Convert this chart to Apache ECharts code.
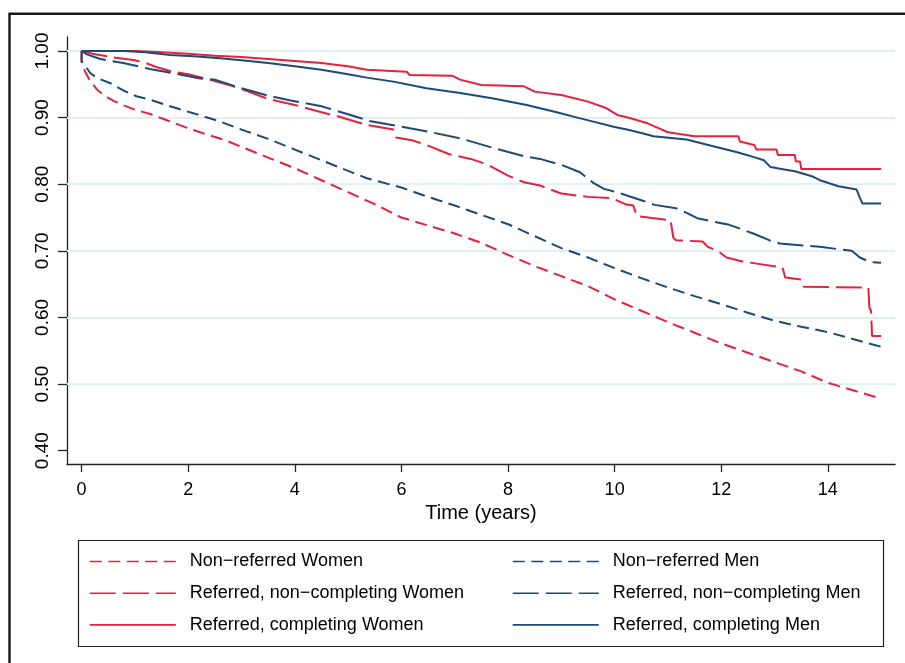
<!DOCTYPE html>
<html>
<head>
<meta charset="utf-8">
<script src="https://cdn.jsdelivr.net/npm/echarts@6/dist/echarts.min.js"></script>
<style>
  html, body { margin: 0; padding: 0; background: #fff; }
  #chart { width: 905px; height: 663px; }
</style>
</head>
<body>
<div id="chart"></div>
<script>
// ---- Data (time in years, survival probability) ----
const seriesNames = [
  "Non\u2212referred Women",
  "Non\u2212referred Men",
  "Referred, non\u2212completing Women",
  "Referred, non\u2212completing Men",
  "Referred, completing Women",
  "Referred, completing Men"
];

const nonReferredWomen = [
  [0,1],[0,0.982],[0.06,0.970],[0.16,0.955],[0.28,0.943],[0.41,0.934],[0.6,0.925],[0.8,0.918],
  [1.0,0.912],[1.3,0.905],[1.6,0.896],[2.0,0.884],[2.3,0.876],[2.7,0.866],[3.0,0.856],[3.5,0.840],
  [4.0,0.824],[4.5,0.806],[5.0,0.788],[5.5,0.770],[6.0,0.750],[6.5,0.738],[7.0,0.726],[7.5,0.712],
  [8.0,0.694],[8.5,0.677],[9.0,0.662],[9.5,0.647],[10.0,0.627],[10.5,0.610],[11.0,0.593],[11.5,0.577],
  [12.0,0.561],[12.5,0.547],[13.0,0.533],[13.5,0.519],[14.0,0.502],[14.5,0.490],[15.0,0.478]
];

const nonReferredMen = [
  [0,1],[0,0.985],[0.1,0.974],[0.16,0.967],[0.3,0.959],[0.53,0.952],[0.8,0.940],[1.03,0.932],
  [1.28,0.927],[1.66,0.917],[2.2,0.904],[2.6,0.894],[3.0,0.882],[3.5,0.868],[4.0,0.852],[4.5,0.836],
  [5.0,0.820],[5.35,0.809],[6.0,0.795],[6.5,0.781],[7.0,0.768],[7.5,0.754],[8.0,0.740],[8.5,0.722],
  [9.0,0.704],[9.5,0.690],[10.0,0.674],[10.5,0.659],[11.0,0.645],[11.5,0.632],[12.0,0.620],[12.5,0.607],
  [13.0,0.595],[13.5,0.586],[14.0,0.578],[14.5,0.567],[15.0,0.556]
];

const referredNonCompletingWomen = [
  [0,1],[0.2,0.996],[0.55,0.991],[1.0,0.986],[1.2,0.982],[1.4,0.976],[1.7,0.969],[2.0,0.965],
  [2.4,0.957],[2.8,0.948],[3.0,0.943],[3.5,0.928],[4.0,0.919],[4.5,0.908],[4.8,0.902],[5.35,0.889],
  [5.85,0.882],[5.9,0.870],[6.2,0.866],[6.5,0.858],[6.9,0.845],[7.3,0.838],[7.6,0.830],[8.0,0.813],
  [8.3,0.803],[8.6,0.798],[9.0,0.786],[9.5,0.781],[9.95,0.779],[10.2,0.770],[10.35,0.768],[10.42,0.752],
  [11.05,0.746],[11.1,0.720],[11.15,0.716],[11.65,0.714],[11.75,0.706],[11.95,0.699],[12.1,0.690],
  [12.4,0.684],[13.15,0.675],[13.2,0.660],[13.5,0.657],[13.55,0.646],[14.76,0.645],[14.78,0.615],
  [14.81,0.610],[14.83,0.572],[15.0,0.572]
];

const referredNonCompletingMen = [
  [0,1],[0.1,0.995],[0.35,0.988],[0.78,0.982],[1.28,0.973],[1.7,0.967],[2.2,0.959],[2.5,0.957],
  [3.0,0.944],[3.5,0.933],[3.9,0.926],[4.5,0.917],[5.0,0.905],[5.4,0.895],[5.9,0.888],[6.5,0.879],
  [7.1,0.869],[7.7,0.855],[8.3,0.842],[8.6,0.838],[9.0,0.829],[9.35,0.818],[9.6,0.802],[9.8,0.793],
  [10.0,0.789],[10.5,0.776],[10.75,0.769],[11.15,0.764],[11.35,0.757],[11.55,0.749],[12.15,0.739],
  [12.4,0.732],[12.6,0.726],[12.9,0.716],[13.1,0.711],[13.85,0.706],[14.45,0.700],[14.6,0.690],
  [14.8,0.683],[15.0,0.682]
];

const referredCompletingWomen = [
  [0,1],[1.0,1.0],[1.5,0.998],[2.0,0.996],[2.5,0.993],[3.0,0.991],[3.5,0.988],[4.0,0.985],
  [4.5,0.982],[4.8,0.979],[5.0,0.977],[5.35,0.972],[6.1,0.969],[6.15,0.964],[6.95,0.963],[7.1,0.957],
  [7.5,0.949],[8.3,0.947],[8.5,0.939],[9.0,0.934],[9.5,0.924],[9.85,0.914],[10.05,0.904],[10.3,0.899],
  [10.6,0.892],[10.8,0.885],[11.0,0.878],[11.5,0.872],[12.32,0.872],[12.35,0.864],[12.62,0.859],
  [12.66,0.852],[13.04,0.852],[13.06,0.844],[13.38,0.844],[13.4,0.834],[13.48,0.834],[13.5,0.823],
  [15.0,0.823]
];

const referredCompletingMen = [
  [0,1],[0.8,1.0],[1.2,0.998],[1.66,0.994],[2.1,0.992],[2.6,0.989],[3.0,0.986],[3.5,0.982],
  [4.0,0.977],[4.5,0.972],[5.0,0.965],[5.35,0.960],[5.85,0.954],[6.47,0.944],[7.1,0.937],[7.7,0.929],
  [8.35,0.919],[8.97,0.907],[9.3,0.900],[9.6,0.894],[10.0,0.886],[10.23,0.882],[10.5,0.877],
  [10.73,0.872],[11.35,0.867],[11.7,0.860],[12.0,0.854],[12.3,0.848],[12.6,0.841],[12.8,0.836],
  [12.92,0.826],[13.4,0.819],[13.7,0.812],[13.85,0.806],[14.2,0.797],[14.54,0.792],[14.6,0.780],
  [14.65,0.771],[15.0,0.771]
];

const xTicks = [0, 2, 4, 6, 8, 10, 12, 14];
const yTicks = [0.4, 0.5, 0.6, 0.7, 0.8, 0.9, 1.0];
const yGridValues = [0.5, 0.6, 0.7, 0.8, 0.9, 1.0];

// ---- Styles ----
const RED = '#e8203c';
const BLUE = '#1a4a75';
const SHORT_DASH = [12, 6.5];
const LONG_DASH = [26, 7];
const FONT = '"Liberation Sans", Arial, Helvetica, sans-serif';

const seriesData = [
  nonReferredWomen, nonReferredMen,
  referredNonCompletingWomen, referredNonCompletingMen,
  referredCompletingWomen, referredCompletingMen
];
const seriesColors = [RED, BLUE, RED, BLUE, RED, BLUE];
const seriesDash = [SHORT_DASH, SHORT_DASH, LONG_DASH, LONG_DASH, 'solid', 'solid'];

const chart = echarts.init(document.getElementById('chart'), null, { renderer: 'canvas' });

const series = [{
  name: '__grid',
  type: 'line',
  data: [],
  silent: true,
  markLine: {
    silent: true,
    z: 1,
    symbol: ['none', 'none'],
    label: { show: false },
    lineStyle: { color: '#e2eff0', width: 2, type: 'solid' },
    emphasis: { disabled: true },
    animation: false,
    data: yGridValues.map(v => ({ yAxis: v }))
  }
}];

seriesData.forEach((d, i) => {
  series.push({
    name: seriesNames[i],
    type: 'line',
    data: d,
    showSymbol: false,
    symbol: 'none',
    z: 3 + i,
    lineStyle: { color: seriesColors[i], width: 2, type: seriesDash[i] },
    itemStyle: { color: seriesColors[i] },
    emphasis: { disabled: true },
    silent: true
  });
});

const legendCommon = {
  orient: 'vertical',
  top: 551.5,
  itemWidth: 86,
  itemHeight: 20,
  itemGap: 11.7,
  padding: 0,
  selectedMode: false,
  itemStyle: { opacity: 0, borderWidth: 0 },
  lineStyle: { width: 1.6 },
  textStyle: { fontSize: 18, color: '#000', fontFamily: FONT, lineHeight: 20, padding: [0, 0, 0, 9] }
};

const option = {
  animation: false,
  backgroundColor: '#fff',
  grid: { left: 67, right: 10, top: 37, bottom: 199, containLabel: false },
  xAxis: {
    type: 'value',
    min: -0.274,
    max: 15.26,
    name: 'Time (years)',
    nameLocation: 'middle',
    nameGap: 39,
    nameTextStyle: { fontSize: 20, color: '#000', fontFamily: FONT },
    axisLine: { show: true, onZero: false, lineStyle: { color: '#222', width: 1.3 } },
    axisTick: { show: true, customValues: xTicks, length: 8, lineStyle: { color: '#222', width: 1.3 } },
    axisLabel: { customValues: xTicks, fontSize: 18, color: '#000', fontFamily: FONT, margin: 17 },
    splitLine: { show: false }
  },
  yAxis: {
    type: 'value',
    min: 0.38,
    max: 1.021,
    axisLine: { show: true, onZero: false, lineStyle: { color: '#222', width: 1.3 } },
    axisTick: { show: true, customValues: yTicks, length: 9, lineStyle: { color: '#222', width: 1.3 } },
    axisLabel: {
      customValues: yTicks,
      rotate: 90,
      fontSize: 19,
      color: '#000',
      fontFamily: FONT,
      margin: 15,
      formatter: v => Number(v).toFixed(2)
    },
    splitLine: { show: false }
  },
  legend: [
    Object.assign({}, legendCommon, { left: 89, data: [seriesNames[0], seriesNames[2], seriesNames[4]] }),
    Object.assign({}, legendCommon, { left: 512, data: [seriesNames[1], seriesNames[3], seriesNames[5]] })
  ],
  graphic: [
    {
      type: 'rect',
      silent: true,
      shape: { x: 9.5, y: 13.8, width: 1000, height: 1000 },
      style: { fill: 'none', stroke: '#1a1a1a', lineWidth: 2.4 }
    },
    {
      type: 'rect',
      silent: true,
      shape: { x: 78.5, y: 540.5, width: 805, height: 106 },
      style: { fill: 'none', stroke: '#222', lineWidth: 1.2 }
    }
  ],
  series: series
};

chart.setOption(option);
</script>
</body>
</html>
